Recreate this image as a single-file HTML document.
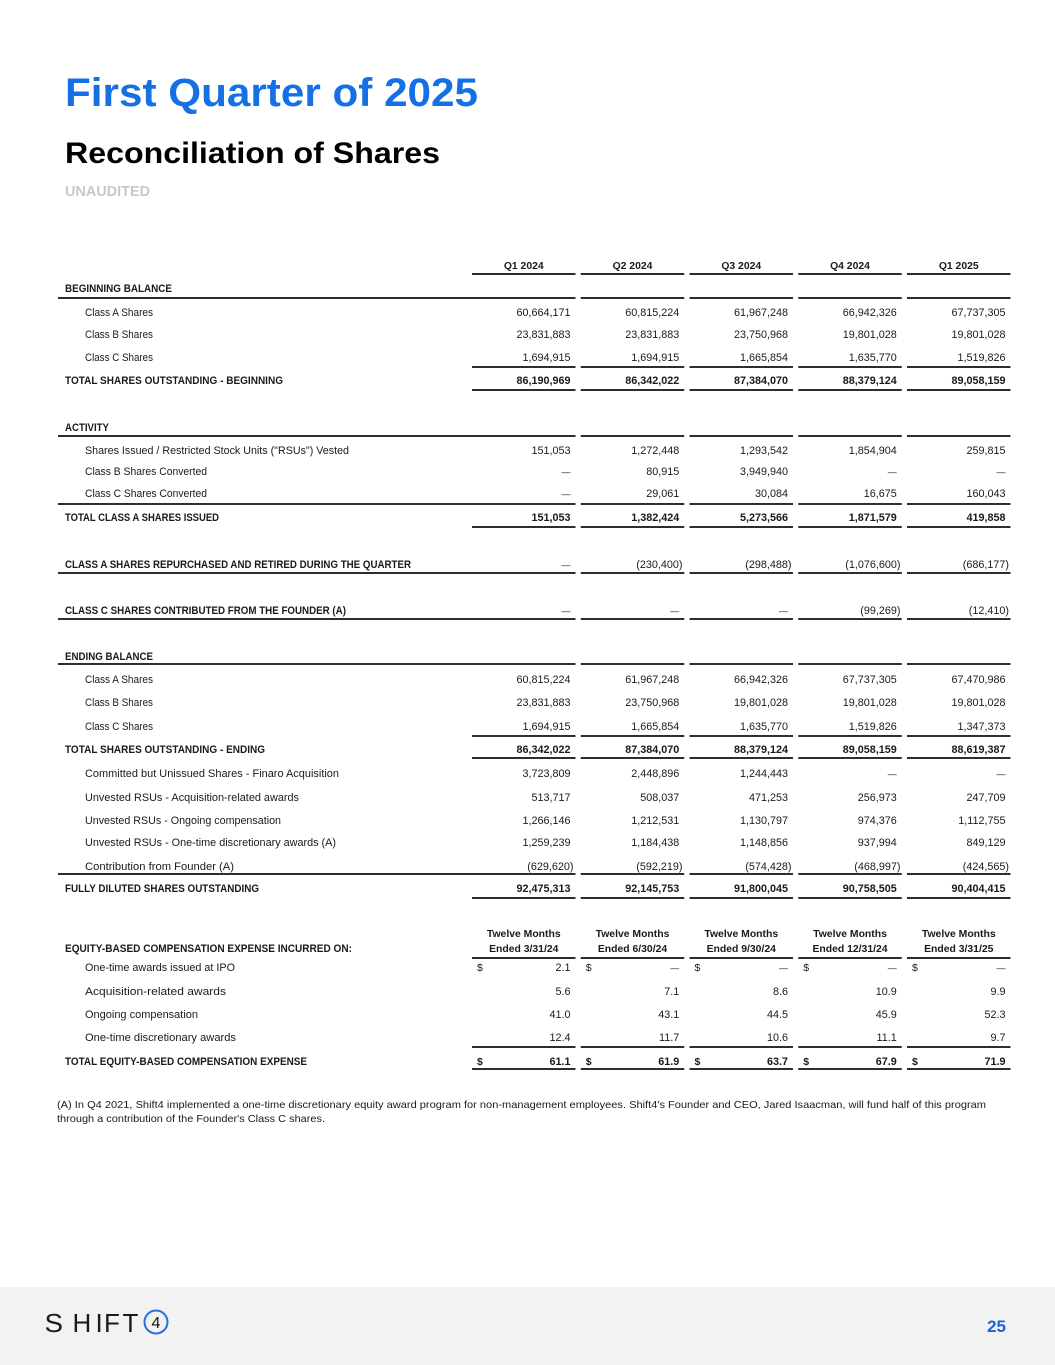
<!DOCTYPE html>
<html>
<head>
<meta charset="utf-8">
<style>
  html,body{margin:0;padding:0;background:#fff;}
  body{width:1055px;height:1365px;overflow:hidden;}
  svg{display:block;}
  text{font-family:"Liberation Sans",Arial,sans-serif;fill:#1a1a1a;}
  .l{font-size:10.8px;}
  .b{font-size:10.6px;font-weight:bold;}
  .n{font-size:10.8px;text-anchor:end;}
  .nb{font-size:10.8px;text-anchor:end;font-weight:bold;}
  .d{font-size:9px;text-anchor:end;}
  .h{font-size:10.4px;font-weight:bold;text-anchor:middle;}
  .dl{font-size:10.5px;}
  .dlb{font-size:10.5px;font-weight:bold;}
  line{stroke:#111;stroke-width:1.7;}
</style>
</head>
<body>
<svg width="1055" height="1365" viewBox="0 0 1055 1365" xmlns="http://www.w3.org/2000/svg">
<defs>
  <g id="vl">
    <line x1="472" x2="575.5" y1="0" y2="0"/>
    <line x1="580.75" x2="684.25" y1="0" y2="0"/>
    <line x1="689.5" x2="793" y1="0" y2="0"/>
    <line x1="798.25" x2="901.75" y1="0" y2="0"/>
    <line x1="907" x2="1010.5" y1="0" y2="0"/>
  </g>
  <g id="fl">
    <line x1="58" x2="575.5" y1="0" y2="0"/>
    <line x1="580.75" x2="684.25" y1="0" y2="0"/>
    <line x1="689.5" x2="793" y1="0" y2="0"/>
    <line x1="798.25" x2="901.75" y1="0" y2="0"/>
    <line x1="907" x2="1010.5" y1="0" y2="0"/>
  </g>
</defs>

<!-- Titles -->
<text x="65" y="106" style="font-size:40px;font-weight:bold;fill:#1570e6" textLength="413" lengthAdjust="spacingAndGlyphs">First Quarter of 2025</text>
<text x="65" y="163" style="font-size:30px;font-weight:bold;fill:#000" textLength="375" lengthAdjust="spacingAndGlyphs">Reconciliation of Shares</text>
<text x="65" y="196" style="font-size:15px;font-weight:bold;fill:#c8c8c8" textLength="85" lengthAdjust="spacingAndGlyphs">UNAUDITED</text>

<!-- Header -->
<text class="h" x="523.75" y="269">Q1 2024</text>
<text class="h" x="632.5" y="269">Q2 2024</text>
<text class="h" x="741.25" y="269">Q3 2024</text>
<text class="h" x="850" y="269">Q4 2024</text>
<text class="h" x="958.75" y="269">Q1 2025</text>
<use href="#vl" y="274"/>

<!-- Beginning balance -->
<text class="b" x="65" y="292" textLength="107" lengthAdjust="spacingAndGlyphs">BEGINNING BALANCE</text>
<use href="#fl" y="298"/>

<text class="l" x="85" y="316" textLength="68" lengthAdjust="spacingAndGlyphs">Class A Shares</text>
<text class="n" x="570.5" y="316">60,664,171</text>
<text class="n" x="679.25" y="316">60,815,224</text>
<text class="n" x="788" y="316">61,967,248</text>
<text class="n" x="896.75" y="316">66,942,326</text>
<text class="n" x="1005.5" y="316">67,737,305</text>

<text class="l" x="85" y="338" textLength="68" lengthAdjust="spacingAndGlyphs">Class B Shares</text>
<text class="n" x="570.5" y="338">23,831,883</text>
<text class="n" x="679.25" y="338">23,831,883</text>
<text class="n" x="788" y="338">23,750,968</text>
<text class="n" x="896.75" y="338">19,801,028</text>
<text class="n" x="1005.5" y="338">19,801,028</text>

<text class="l" x="85" y="361" textLength="68" lengthAdjust="spacingAndGlyphs">Class C Shares</text>
<text class="n" x="570.5" y="361">1,694,915</text>
<text class="n" x="679.25" y="361">1,694,915</text>
<text class="n" x="788" y="361">1,665,854</text>
<text class="n" x="896.75" y="361">1,635,770</text>
<text class="n" x="1005.5" y="361">1,519,826</text>
<use href="#vl" y="367"/>

<text class="b" x="65" y="384" textLength="218" lengthAdjust="spacingAndGlyphs">TOTAL SHARES OUTSTANDING - BEGINNING</text>
<text class="nb" x="570.5" y="384">86,190,969</text>
<text class="nb" x="679.25" y="384">86,342,022</text>
<text class="nb" x="788" y="384">87,384,070</text>
<text class="nb" x="896.75" y="384">88,379,124</text>
<text class="nb" x="1005.5" y="384">89,058,159</text>
<use href="#vl" y="390"/>

<!-- Activity -->
<text class="b" x="65" y="431" textLength="44" lengthAdjust="spacingAndGlyphs">ACTIVITY</text>
<use href="#fl" y="436"/>

<text class="l" x="85" y="454" textLength="264" lengthAdjust="spacingAndGlyphs">Shares Issued / Restricted Stock Units ("RSUs") Vested</text>
<text class="n" x="570.5" y="454">151,053</text>
<text class="n" x="679.25" y="454">1,272,448</text>
<text class="n" x="788" y="454">1,293,542</text>
<text class="n" x="896.75" y="454">1,854,904</text>
<text class="n" x="1005.5" y="454">259,815</text>

<text class="l" x="85" y="475" textLength="122" lengthAdjust="spacingAndGlyphs">Class B Shares Converted</text>
<text class="d" x="570.5" y="475">—</text>
<text class="n" x="679.25" y="475">80,915</text>
<text class="n" x="788" y="475">3,949,940</text>
<text class="d" x="896.75" y="475">—</text>
<text class="d" x="1005.5" y="475">—</text>

<text class="l" x="85" y="497" textLength="122" lengthAdjust="spacingAndGlyphs">Class C Shares Converted</text>
<text class="d" x="570.5" y="497">—</text>
<text class="n" x="679.25" y="497">29,061</text>
<text class="n" x="788" y="497">30,084</text>
<text class="n" x="896.75" y="497">16,675</text>
<text class="n" x="1005.5" y="497">160,043</text>
<use href="#fl" y="504"/>

<text class="b" x="65" y="521" textLength="154" lengthAdjust="spacingAndGlyphs">TOTAL CLASS A SHARES ISSUED</text>
<text class="nb" x="570.5" y="521">151,053</text>
<text class="nb" x="679.25" y="521">1,382,424</text>
<text class="nb" x="788" y="521">5,273,566</text>
<text class="nb" x="896.75" y="521">1,871,579</text>
<text class="nb" x="1005.5" y="521">419,858</text>
<use href="#vl" y="527"/>

<!-- Repurchased -->
<text class="b" x="65" y="568" textLength="346" lengthAdjust="spacingAndGlyphs">CLASS A SHARES REPURCHASED AND RETIRED DURING THE QUARTER</text>
<text class="d" x="570.5" y="568">—</text>
<text class="n" x="682.5" y="568">(230,400)</text>
<text class="n" x="791.5" y="568">(298,488)</text>
<text class="n" x="900.5" y="568">(1,076,600)</text>
<text class="n" x="1009" y="568">(686,177)</text>
<use href="#fl" y="573"/>

<!-- Contributed -->
<text class="b" x="65" y="614" textLength="281" lengthAdjust="spacingAndGlyphs">CLASS C SHARES CONTRIBUTED FROM THE FOUNDER (A)</text>
<text class="d" x="570.5" y="614">—</text>
<text class="d" x="679.25" y="614">—</text>
<text class="d" x="788" y="614">—</text>
<text class="n" x="900.5" y="614">(99,269)</text>
<text class="n" x="1009" y="614">(12,410)</text>
<use href="#fl" y="619"/>

<!-- Ending balance -->
<text class="b" x="65" y="660" textLength="88" lengthAdjust="spacingAndGlyphs">ENDING BALANCE</text>
<use href="#fl" y="664"/>

<text class="l" x="85" y="683" textLength="68" lengthAdjust="spacingAndGlyphs">Class A Shares</text>
<text class="n" x="570.5" y="683">60,815,224</text>
<text class="n" x="679.25" y="683">61,967,248</text>
<text class="n" x="788" y="683">66,942,326</text>
<text class="n" x="896.75" y="683">67,737,305</text>
<text class="n" x="1005.5" y="683">67,470,986</text>

<text class="l" x="85" y="706" textLength="68" lengthAdjust="spacingAndGlyphs">Class B Shares</text>
<text class="n" x="570.5" y="706">23,831,883</text>
<text class="n" x="679.25" y="706">23,750,968</text>
<text class="n" x="788" y="706">19,801,028</text>
<text class="n" x="896.75" y="706">19,801,028</text>
<text class="n" x="1005.5" y="706">19,801,028</text>

<text class="l" x="85" y="730" textLength="68" lengthAdjust="spacingAndGlyphs">Class C Shares</text>
<text class="n" x="570.5" y="730">1,694,915</text>
<text class="n" x="679.25" y="730">1,665,854</text>
<text class="n" x="788" y="730">1,635,770</text>
<text class="n" x="896.75" y="730">1,519,826</text>
<text class="n" x="1005.5" y="730">1,347,373</text>
<use href="#vl" y="736"/>

<text class="b" x="65" y="753" textLength="200" lengthAdjust="spacingAndGlyphs">TOTAL SHARES OUTSTANDING - ENDING</text>
<text class="nb" x="570.5" y="753">86,342,022</text>
<text class="nb" x="679.25" y="753">87,384,070</text>
<text class="nb" x="788" y="753">88,379,124</text>
<text class="nb" x="896.75" y="753">89,058,159</text>
<text class="nb" x="1005.5" y="753">88,619,387</text>
<use href="#vl" y="758"/>

<text class="l" x="85" y="777" textLength="254" lengthAdjust="spacingAndGlyphs">Committed but Unissued Shares - Finaro Acquisition</text>
<text class="n" x="570.5" y="777">3,723,809</text>
<text class="n" x="679.25" y="777">2,448,896</text>
<text class="n" x="788" y="777">1,244,443</text>
<text class="d" x="896.75" y="777">—</text>
<text class="d" x="1005.5" y="777">—</text>

<text class="l" x="85" y="801" textLength="214" lengthAdjust="spacingAndGlyphs">Unvested RSUs - Acquisition-related awards</text>
<text class="n" x="570.5" y="801">513,717</text>
<text class="n" x="679.25" y="801">508,037</text>
<text class="n" x="788" y="801">471,253</text>
<text class="n" x="896.75" y="801">256,973</text>
<text class="n" x="1005.5" y="801">247,709</text>

<text class="l" x="85" y="824" textLength="196" lengthAdjust="spacingAndGlyphs">Unvested RSUs - Ongoing compensation</text>
<text class="n" x="570.5" y="824">1,266,146</text>
<text class="n" x="679.25" y="824">1,212,531</text>
<text class="n" x="788" y="824">1,130,797</text>
<text class="n" x="896.75" y="824">974,376</text>
<text class="n" x="1005.5" y="824">1,112,755</text>

<text class="l" x="85" y="846" textLength="251" lengthAdjust="spacingAndGlyphs">Unvested RSUs - One-time discretionary awards (A)</text>
<text class="n" x="570.5" y="846">1,259,239</text>
<text class="n" x="679.25" y="846">1,184,438</text>
<text class="n" x="788" y="846">1,148,856</text>
<text class="n" x="896.75" y="846">937,994</text>
<text class="n" x="1005.5" y="846">849,129</text>

<text class="l" x="85" y="870" textLength="149" lengthAdjust="spacingAndGlyphs">Contribution from Founder (A)</text>
<text class="n" x="573.5" y="870">(629,620)</text>
<text class="n" x="682.5" y="870">(592,219)</text>
<text class="n" x="791.5" y="870">(574,428)</text>
<text class="n" x="900.5" y="870">(468,997)</text>
<text class="n" x="1009" y="870">(424,565)</text>
<use href="#fl" y="874"/>

<text class="b" x="65" y="892" textLength="194" lengthAdjust="spacingAndGlyphs">FULLY DILUTED SHARES OUTSTANDING</text>
<text class="nb" x="570.5" y="892">92,475,313</text>
<text class="nb" x="679.25" y="892">92,145,753</text>
<text class="nb" x="788" y="892">91,800,045</text>
<text class="nb" x="896.75" y="892">90,758,505</text>
<text class="nb" x="1005.5" y="892">90,404,415</text>
<use href="#vl" y="898"/>

<!-- Equity-based compensation -->
<text class="b" x="65" y="952" textLength="287" lengthAdjust="spacingAndGlyphs">EQUITY-BASED COMPENSATION EXPENSE INCURRED ON:</text>
<text class="h" x="523.75" y="937">Twelve Months</text>
<text class="h" x="632.5" y="937">Twelve Months</text>
<text class="h" x="741.25" y="937">Twelve Months</text>
<text class="h" x="850" y="937">Twelve Months</text>
<text class="h" x="958.75" y="937">Twelve Months</text>
<text class="h" x="523.75" y="952">Ended 3/31/24</text>
<text class="h" x="632.5" y="952">Ended 6/30/24</text>
<text class="h" x="741.25" y="952">Ended 9/30/24</text>
<text class="h" x="850" y="952">Ended 12/31/24</text>
<text class="h" x="958.75" y="952">Ended 3/31/25</text>
<use href="#vl" y="958"/>

<text class="l" x="85" y="971" textLength="150" lengthAdjust="spacingAndGlyphs">One-time awards issued at IPO</text>
<text class="dl" x="477" y="971">$</text>
<text class="dl" x="585.75" y="971">$</text>
<text class="dl" x="694.5" y="971">$</text>
<text class="dl" x="803.25" y="971">$</text>
<text class="dl" x="912" y="971">$</text>
<text class="n" x="570.5" y="971">2.1</text>
<text class="d" x="679.25" y="971">—</text>
<text class="d" x="788" y="971">—</text>
<text class="d" x="896.75" y="971">—</text>
<text class="d" x="1005.5" y="971">—</text>

<text class="l" x="85" y="995" textLength="141" lengthAdjust="spacingAndGlyphs">Acquisition-related awards</text>
<text class="n" x="570.5" y="995">5.6</text>
<text class="n" x="679.25" y="995">7.1</text>
<text class="n" x="788" y="995">8.6</text>
<text class="n" x="896.75" y="995">10.9</text>
<text class="n" x="1005.5" y="995">9.9</text>

<text class="l" x="85" y="1018" textLength="113" lengthAdjust="spacingAndGlyphs">Ongoing compensation</text>
<text class="n" x="570.5" y="1018">41.0</text>
<text class="n" x="679.25" y="1018">43.1</text>
<text class="n" x="788" y="1018">44.5</text>
<text class="n" x="896.75" y="1018">45.9</text>
<text class="n" x="1005.5" y="1018">52.3</text>

<text class="l" x="85" y="1041" textLength="151" lengthAdjust="spacingAndGlyphs">One-time discretionary awards</text>
<text class="n" x="570.5" y="1041">12.4</text>
<text class="n" x="679.25" y="1041">11.7</text>
<text class="n" x="788" y="1041">10.6</text>
<text class="n" x="896.75" y="1041">11.1</text>
<text class="n" x="1005.5" y="1041">9.7</text>
<use href="#vl" y="1047"/>

<text class="b" x="65" y="1065" textLength="242" lengthAdjust="spacingAndGlyphs">TOTAL EQUITY-BASED COMPENSATION EXPENSE</text>
<text class="dlb" x="477" y="1065">$</text>
<text class="dlb" x="585.75" y="1065">$</text>
<text class="dlb" x="694.5" y="1065">$</text>
<text class="dlb" x="803.25" y="1065">$</text>
<text class="dlb" x="912" y="1065">$</text>
<text class="nb" x="570.5" y="1065">61.1</text>
<text class="nb" x="679.25" y="1065">61.9</text>
<text class="nb" x="788" y="1065">63.7</text>
<text class="nb" x="896.75" y="1065">67.9</text>
<text class="nb" x="1005.5" y="1065">71.9</text>
<use href="#vl" y="1069"/>

<!-- Footnote -->
<text class="l" x="57" y="1108" style="font-size:10.5px" textLength="929" lengthAdjust="spacingAndGlyphs">(A) In Q4 2021, Shift4 implemented a one-time discretionary equity award program for non-management employees. Shift4's Founder and CEO, Jared Isaacman, will fund half of this program</text>
<text class="l" x="57" y="1122" style="font-size:10.5px" textLength="268" lengthAdjust="spacingAndGlyphs">through a contribution of the Founder's Class C shares.</text>

<!-- Footer -->
<rect x="0" y="1287" width="1055" height="78" fill="#f2f2f2"/>
<g style="font-size:26px;">
  <text x="44.5" y="1332" fill="#111" textLength="18.5" lengthAdjust="spacingAndGlyphs">S</text>
  <text x="72.5" y="1332" fill="#111">H</text>
  <text x="95.5" y="1332" fill="#111">I</text>
  <text x="104" y="1332" fill="#111">F</text>
  <text x="122.5" y="1332" fill="#111">T</text>
</g>
<circle cx="156" cy="1322" r="11.5" fill="none" stroke="#2a6fe0" stroke-width="2"/>
<text x="156" y="1328" style="font-size:16px;text-anchor:middle;fill:#111">4</text>
<text x="1006" y="1332" style="font-size:17px;font-weight:bold;text-anchor:end;fill:#1764d8">25</text>
</svg>
</body>
</html>
